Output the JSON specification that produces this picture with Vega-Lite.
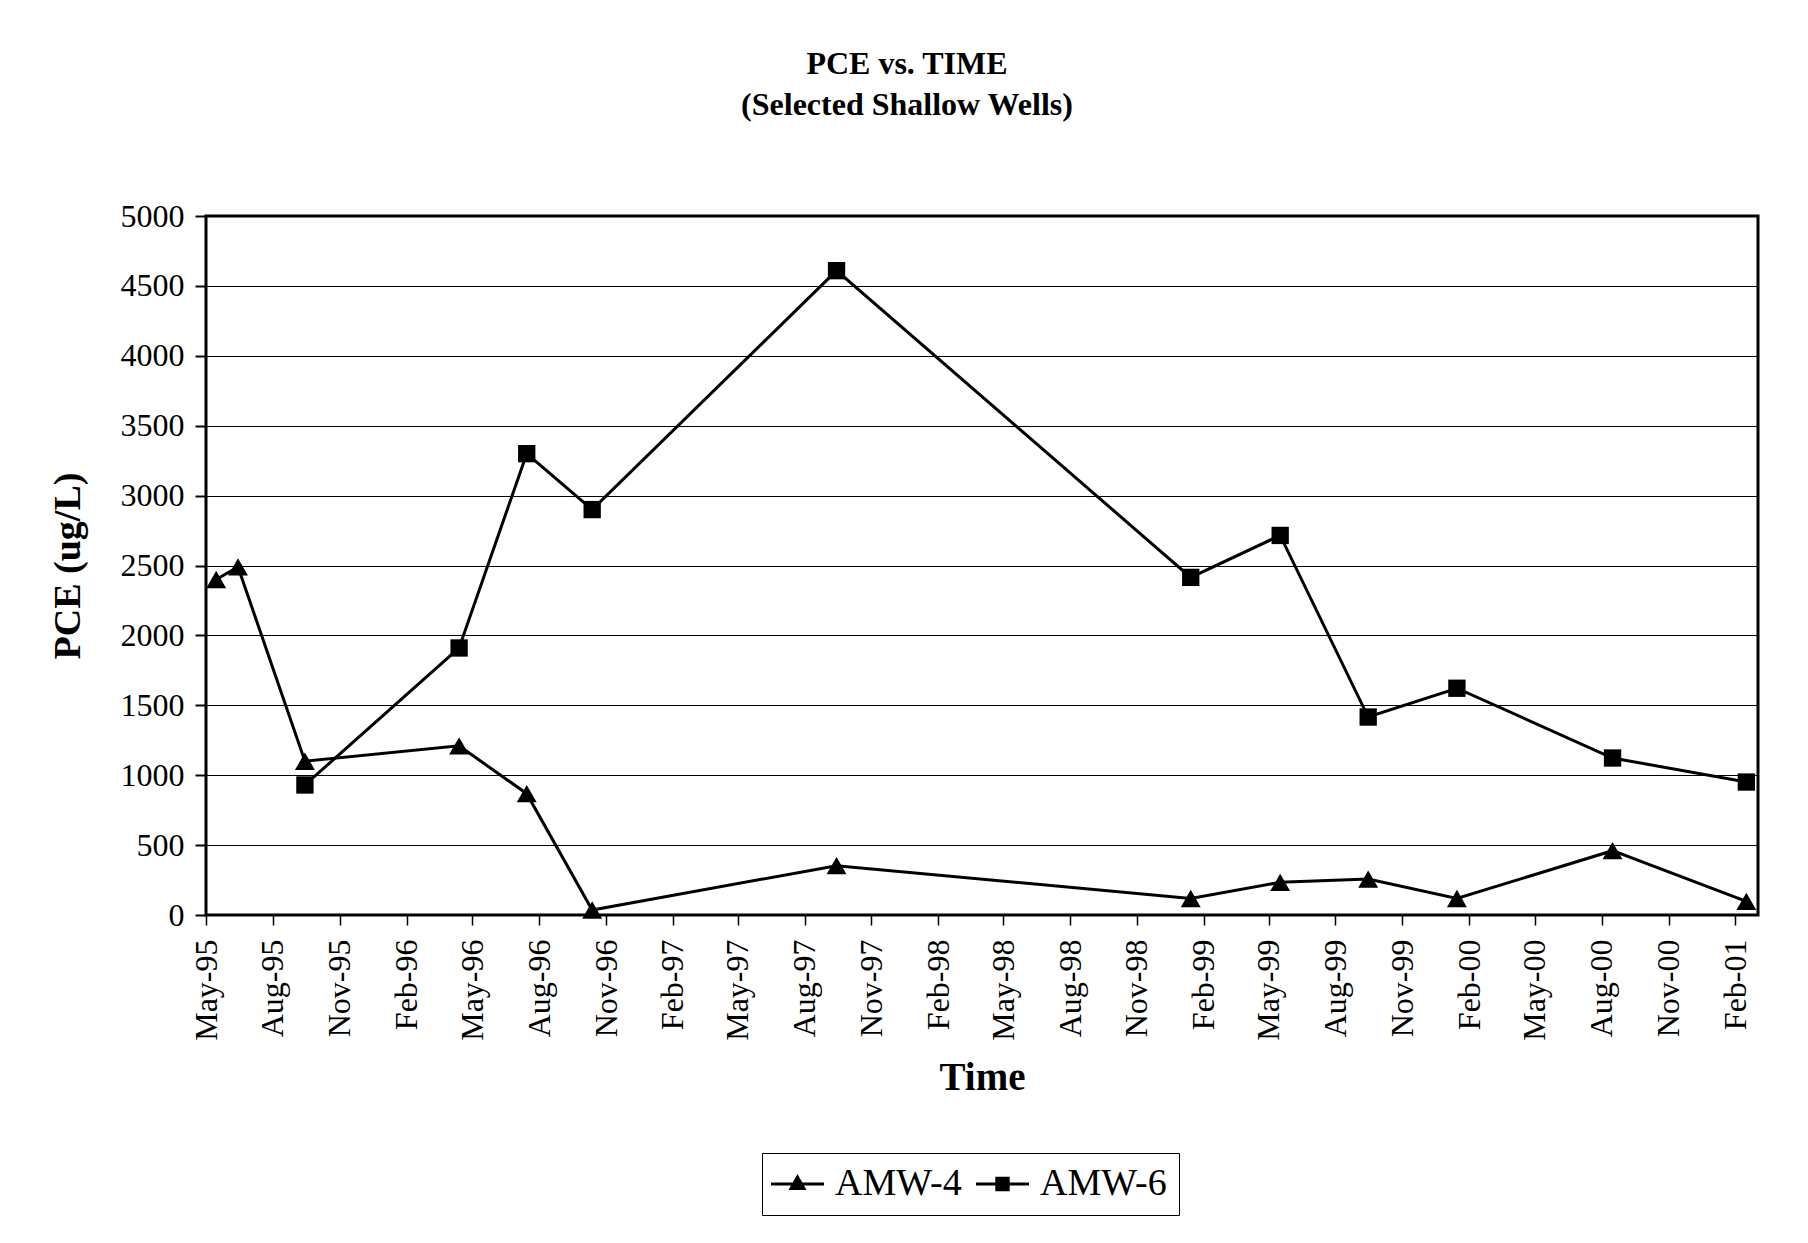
{
  "$schema": "https://vega.github.io/schema/vega-lite/v6.json",
  "width": 1552,
  "height": 699,
  "autosize": {"type": "none"},
  "padding": {"left": 206, "top": 216, "right": 50, "bottom": 328},
  "background": "white",
  "title": {
    "text": ["PCE vs. TIME", "(Selected Shallow Wells)"],
    "font": "Liberation Serif",
    "fontSize": 32,
    "fontWeight": "bold",
    "color": "black",
    "lineHeight": 41,
    "anchor": "middle",
    "dx": -75,
    "offset": 78
  },
  "data": {
    "values": [
      {"date": "1995/05/15", "series": "AMW-4", "pce": 2400},
      {"date": "1995/06/14", "series": "AMW-4", "pce": 2490},
      {"date": "1995/09/14", "series": "AMW-4", "pce": 1100},
      {"date": "1996/04/13", "series": "AMW-4", "pce": 1210},
      {"date": "1996/07/15", "series": "AMW-4", "pce": 868},
      {"date": "1996/10/13", "series": "AMW-4", "pce": 36},
      {"date": "1997/09/14", "series": "AMW-4", "pce": 353},
      {"date": "1999/01/14", "series": "AMW-4", "pce": 118},
      {"date": "1999/05/17", "series": "AMW-4", "pce": 234},
      {"date": "1999/09/15", "series": "AMW-4", "pce": 257},
      {"date": "2000/01/15", "series": "AMW-4", "pce": 118},
      {"date": "2000/08/16", "series": "AMW-4", "pce": 460},
      {"date": "2001/02/16", "series": "AMW-4", "pce": 97},
      {"date": "1995/09/14", "series": "AMW-6", "pce": 930},
      {"date": "1996/04/13", "series": "AMW-6", "pce": 1910},
      {"date": "1996/07/15", "series": "AMW-6", "pce": 3300},
      {"date": "1996/10/13", "series": "AMW-6", "pce": 2900},
      {"date": "1997/09/14", "series": "AMW-6", "pce": 4609},
      {"date": "1999/01/14", "series": "AMW-6", "pce": 2415},
      {"date": "1999/05/17", "series": "AMW-6", "pce": 2715},
      {"date": "1999/09/15", "series": "AMW-6", "pce": 1416},
      {"date": "2000/01/15", "series": "AMW-6", "pce": 1622},
      {"date": "2000/08/16", "series": "AMW-6", "pce": 1123},
      {"date": "2001/02/16", "series": "AMW-6", "pce": 951}
    ]
  },
  "encoding": {
    "x": {
      "field": "date",
      "type": "temporal",
      "scale": {"domain": [{"year": 1995, "month": "may", "date": 1}, {"year": 2001, "month": "mar", "date": 4}]},
      "axis": {
        "title": "Time",
        "titleFont": "Liberation Serif",
        "titleFontSize": 39,
        "titleFontWeight": "bold",
        "titleColor": "black",
        "titlePadding": 18,
        "labelFont": "Liberation Serif",
        "labelFontSize": 32,
        "labelColor": "black",
        "labelAngle": 270,
        "labelPadding": 14,
        "labelOverlap": false,
        "labelFlush": false,
        "format": "%b-%y",
        "grid": false,
        "domain": false,
        "ticks": true,
        "tickSize": 10,
        "tickColor": "black",
        "tickWidth": 1.5,
        "values": [
          {"year": 1995, "month": "may", "date": 1},
          {"year": 1995, "month": "aug", "date": 1},
          {"year": 1995, "month": "nov", "date": 1},
          {"year": 1996, "month": "feb", "date": 1},
          {"year": 1996, "month": "may", "date": 1},
          {"year": 1996, "month": "aug", "date": 1},
          {"year": 1996, "month": "nov", "date": 1},
          {"year": 1997, "month": "feb", "date": 1},
          {"year": 1997, "month": "may", "date": 1},
          {"year": 1997, "month": "aug", "date": 1},
          {"year": 1997, "month": "nov", "date": 1},
          {"year": 1998, "month": "feb", "date": 1},
          {"year": 1998, "month": "may", "date": 1},
          {"year": 1998, "month": "aug", "date": 1},
          {"year": 1998, "month": "nov", "date": 1},
          {"year": 1999, "month": "feb", "date": 1},
          {"year": 1999, "month": "may", "date": 1},
          {"year": 1999, "month": "aug", "date": 1},
          {"year": 1999, "month": "nov", "date": 1},
          {"year": 2000, "month": "feb", "date": 1},
          {"year": 2000, "month": "may", "date": 1},
          {"year": 2000, "month": "aug", "date": 1},
          {"year": 2000, "month": "nov", "date": 1},
          {"year": 2001, "month": "feb", "date": 1}
        ]
      }
    },
    "y": {
      "field": "pce",
      "type": "quantitative",
      "scale": {"domain": [0, 5000], "nice": false},
      "axis": {
        "title": "PCE (ug/L)",
        "titleFont": "Liberation Serif",
        "titleFontSize": 38,
        "titleFontWeight": "bold",
        "titleColor": "black",
        "titlePadding": 33,
        "labelFont": "Liberation Serif",
        "labelFontSize": 32,
        "labelColor": "black",
        "labelPadding": 11,
        "values": [0, 500, 1000, 1500, 2000, 2500, 3000, 3500, 4000, 4500, 5000],
        "format": "d",
        "grid": true,
        "gridColor": "black",
        "gridWidth": 1,
        "domain": false,
        "tickSize": 11,
        "tickColor": "black",
        "tickWidth": 2
      }
    }
  },
  "layer": [
    {
      "mark": {"type": "line", "color": "black", "strokeWidth": 3},
      "encoding": {"detail": {"field": "series", "type": "nominal"}}
    },
    {
      "mark": {"type": "point", "filled": true, "color": "black", "opacity": 1, "size": 300},
      "encoding": {
        "shape": {
          "condition": {"test": "datum.series === 'AMW-4'", "value": "M0,-1L1.15,1L-1.15,1Z"},
          "value": "M-1,-1H1V1H-1Z"
        }
      }
    },
    {
      "mark": {"type": "point", "filled": true, "color": "black", "opacity": 0, "size": 400},
      "encoding": {
        "shape": {
          "field": "series",
          "type": "nominal",
          "scale": {
            "domain": ["AMW-4", "AMW-6"],
            "range": [
              "M-2.65,-0.14H2.65V0.14H-2.65ZM0,-1L0.9,0.6L-0.9,0.6Z",
              "M-2.65,-0.14H2.65V0.14H-2.65ZM-0.72,-0.72H0.72V0.72H-0.72Z"
            ]
          },
          "legend": {
            "title": null,
            "orient": "none",
            "legendX": 556,
            "legendY": 937,
            "direction": "horizontal",
            "strokeColor": "black",
            "fillColor": "white",
            "padding": 12,
            "columnPadding": 12,
            "symbolSize": 400,
            "symbolOffset": 4.5,
            "labelOffset": 18.5,
            "symbolOpacity": 1,
            "symbolFillColor": "black",
            "symbolStrokeColor": "black",
            "symbolStrokeWidth": 1,
            "labelFont": "Liberation Serif",
            "labelFontSize": 38,
            "labelColor": "black"
          }
        }
      }
    }
  ],
  "config": {
    "view": {"stroke": "black", "strokeWidth": 3},
    "font": "Liberation Serif"
  }
}
